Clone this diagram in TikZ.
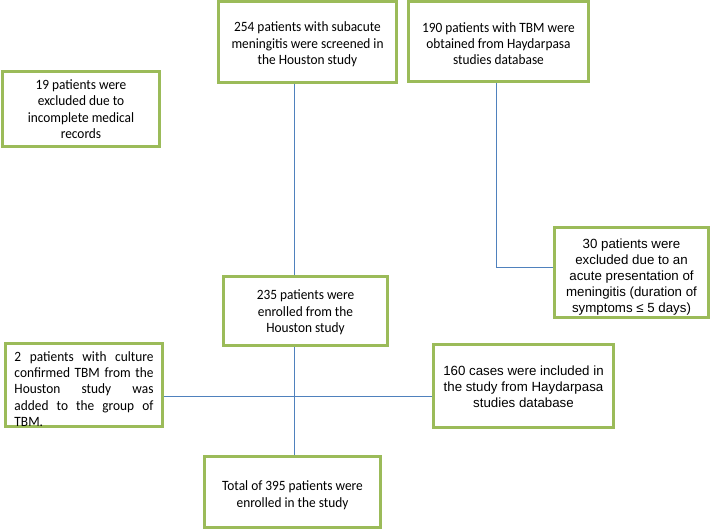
\documentclass[tikz,border=0pt]{standalone}
\usepackage{fontspec}
\setmainfont[FakeStretch=0.94]{Carlito}
\newfontfamily\arialf{Liberation Sans}
\definecolor{boxgreen}{HTML}{9BBB59}
\definecolor{linkblue}{HTML}{4F81BD}
\tikzset{
  fbox/.style={draw=boxgreen, line width=3bp, fill=white, align=center, inner sep=0pt,
    font=\fontsize{14.2bp}{16.3bp}\selectfont},
  abox/.style={fbox, font=\arialf\fontsize{13.3bp}{16bp}\selectfont},
  conn/.style={draw=linkblue, line width=1bp}
}
\begin{document}
\begin{tikzpicture}[x=1bp,y=-1bp]
\useasboundingbox (0,0) rectangle (711,530);
\node[fbox, minimum width=178bp, minimum height=81bp] (A) at (307.5,42)
  {\rule{0pt}{14.5bp}254 patients with subacute\\meningitis were screened in\\the Houston study};
\node[fbox, minimum width=180bp, minimum height=80bp] (B) at (498.5,41.5)
  {\rule{0pt}{14.5bp}190 patients with TBM were\\obtained from Haydarpasa\\studies database};
\node[fbox, minimum width=157bp, minimum height=75bp] (C) at (81,109)
  {19 patients were\\excluded due to\\incomplete medical\\records};
\node[abox, minimum width=154bp, minimum height=90bp] (H) at (631.5,272.5)
  {\rule{0pt}{19bp}30 patients were\\excluded due to an\\acute presentation of\\meningitis (duration of\\symptoms ≤ 5 days)};
\node[fbox, minimum width=164bp, minimum height=69bp] (D) at (305.5,311)
  {\rule{0pt}{12.5bp}235 patients were\\enrolled from the\\Houston study};
\node[fbox, minimum width=157bp, minimum height=81bp, text width=139bp, align=justify] (E) at (84,385)
  {\rule{0pt}{18bp}2 patients with culture\linebreak confirmed TBM from the\linebreak Houston study was\linebreak added to the group of\linebreak TBM.};
\node[abox, minimum width=180bp, minimum height=83bp] (F) at (523.5,386)
  {\rule{0pt}{11bp}160 cases were included in\\the study from Haydarpasa\\studies database};
\node[fbox, minimum width=176bp, minimum height=71bp] (G) at (292.5,492)
  {\rule{0pt}{16.5bp}Total of 395 patients were\\enrolled in the study};
\coordinate (xa) at (294,0);
\coordinate (bk) at (496,267);
\coordinate (hy) at (0,396);
\draw[conn] (A.south -| xa) -- (D.north -| xa);
\draw[conn] (D.south -| xa) -- (G.north -| xa);
\draw[conn] (B.south -| bk) -- (bk) -- (H.west |- bk);
\draw[conn] (E.east |- hy) -- (F.west |- hy);
\end{tikzpicture}
\end{document}
